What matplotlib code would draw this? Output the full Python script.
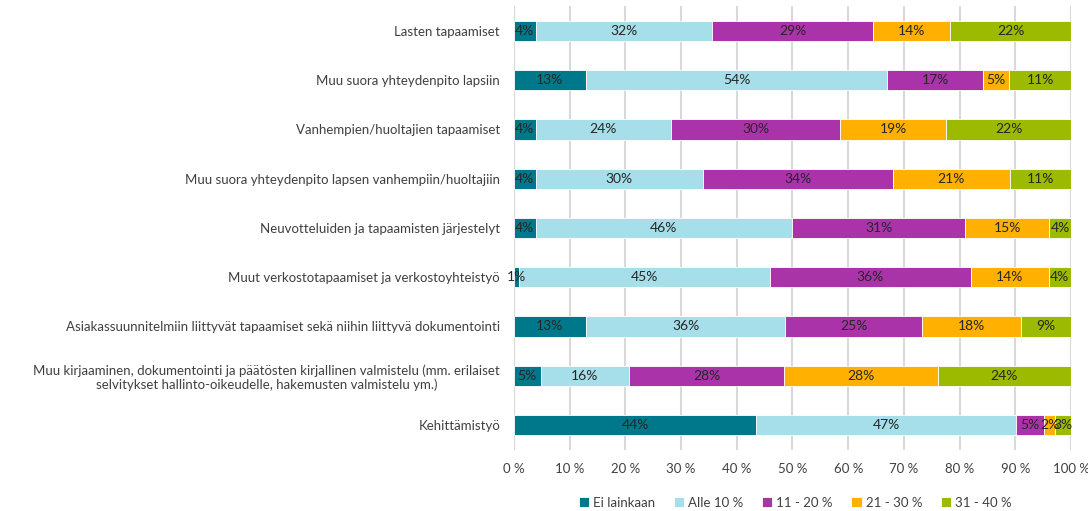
import numpy as np
import matplotlib
matplotlib.use("Agg")
import matplotlib.pyplot as plt

plt.rcParams["font.family"] = ["Lato", "DejaVu Sans"]

categories = [
    "Lasten tapaamiset",
    "Muu suora yhteydenpito lapsiin",
    "Vanhempien/huoltajien tapaamiset",
    "Muu suora yhteydenpito lapsen vanhempiin/huoltajiin",
    "Neuvotteluiden ja tapaamisten järjestelyt",
    "Muut verkostotapaamiset ja verkostoyhteistyö",
    "Asiakassuunnitelmiin liittyvät tapaamiset sekä niihin liittyvä dokumentointi",
    "Muu kirjaaminen, dokumentointi ja päätösten kirjallinen valmistelu (mm. erilaiset\n"
    "selvitykset hallinto-oikeudelle, hakemusten valmistelu ym.)",
    "Kehittämistyö",
]

series_names = ["Ei lainkaan", "Alle 10 %", "11 - 20 %", "21 - 30 %", "31 - 40 %"]

ei_lainkaan = [3.9, 12.9, 3.9, 3.9, 3.9, 0.9, 12.9, 4.8, 43.5]
alle_10 = [31.6, 54.1, 24.3, 30.0, 46.0, 45.1, 35.8, 15.8, 46.6]
p11_20 = [29.0, 17.2, 30.3, 34.1, 31.1, 36.0, 24.6, 27.9, 5.1]
p21_30 = [13.8, 4.7, 19.1, 21.0, 15.1, 14.0, 17.8, 27.6, 1.9]
p31_40 = [21.7, 11.1, 22.4, 11.0, 3.9, 4.0, 8.9, 23.9, 2.9]

colors = ["#00788c", "#a6dfe9", "#ab33aa", "#ffb000", "#9cbb00"]

fig = plt.figure(figsize=(10.88, 5.11), dpi=100)
ax = fig.add_axes([0.4724, 0.1202, 0.5120, 0.8673])

y = np.arange(len(categories))
left = np.zeros(len(categories))
for name, vals, col in zip(series_names,
                           [ei_lainkaan, alle_10, p11_20, p21_30, p31_40],
                           colors):
    vals = np.array(vals)
    bars = ax.barh(y, vals, left=left, height=0.41, color=col, label=name,
                   edgecolor="white", linewidth=0.6, zorder=3)
    for b, v in zip(bars, vals):
        ax.text(b.get_x() + b.get_width() / 2, b.get_y() + b.get_height() / 2,
                f"{v:.0f}%", ha="center", va="center", fontsize=10,
                color="#262626", zorder=4)
    left += vals

ax.set_xlim(0, 100)
ax.set_ylim(len(categories) - 0.5, -0.5)
ax.set_xticks(np.arange(0, 101, 10))
ax.set_xticklabels([f"{t} %" for t in range(0, 101, 10)])
ax.set_yticks(y)
ax.set_yticklabels(categories)
for lab in ax.get_yticklabels():
    lab.set_multialignment("center")
ax.tick_params(axis="both", length=0, labelsize=9.5, colors="#404040")
ax.tick_params(axis="x", pad=10)
ax.tick_params(axis="y", pad=10)
ax.grid(axis="x", color="#d9d9d9", linewidth=1.5, zorder=0)
for s in ax.spines.values():
    s.set_visible(False)

ax.legend(loc="upper center", bbox_to_anchor=(0.505, -0.08), ncol=5,
          frameon=False, fontsize=9.5, handlelength=0.8, handleheight=0.8,
          handletextpad=0.3, columnspacing=1.4, labelcolor="#404040")

fig.savefig("out.png", dpi=100)
